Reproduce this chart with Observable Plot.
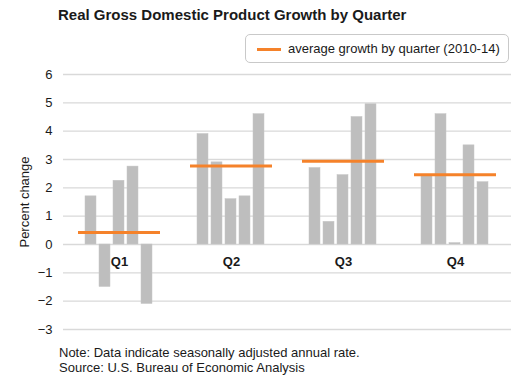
<!DOCTYPE html>
<html>
<head>
<meta charset="utf-8">
<script src="https://cdn.jsdelivr.net/npm/d3@7"></script>
<script src="https://cdn.jsdelivr.net/npm/@observablehq/plot@0.6"></script>
<style>
  html, body { margin: 0; padding: 0; background: #fff; }
  #wrap { position: relative; width: 529px; height: 390px; font-family: "Liberation Sans", Arial, sans-serif; color: #1a1a1a; overflow: hidden; }
  #title { position: absolute; left: 58px; top: 6px; font-size: 15px; font-weight: bold; white-space: nowrap; }
  #legend { position: absolute; left: 245px; top: 34px; width: 264px; height: 29px; border: 1px solid #c9c9c9; border-radius: 5px; box-sizing: border-box; font-size: 13px; white-space: nowrap; }
  #legend .sw { position: absolute; left: 11px; top: 13px; width: 24px; height: 3px; background: #f5822a; }
  #legend .lb { position: absolute; left: 42px; top: 6px; }
  .layer { position: absolute; left: 0; top: 64px; }
  #note { position: absolute; left: 59px; top: 345px; font-size: 13px; line-height: 15px; white-space: nowrap; }
</style>
</head>
<body>
<div id="wrap">
  <div id="title">Real Gross Domestic Product Growth by Quarter</div>
  <div id="legend"><div class="sw"></div><div class="lb">average growth by quarter (2010-14)</div></div>
  <div id="grid" class="layer"></div>
  <div id="chart" class="layer"></div>
  <div id="note">Note: Data indicate seasonally adjusted annual rate.<br>Source: U.S. Bureau of Economic Analysis</div>
</div>
<script>
const quarters = ["Q1", "Q2", "Q3", "Q4"];
const years = ["2010", "2011", "2012", "2013", "2014"];
const q1Values = [1.7, -1.5, 2.25, 2.75, -2.1];
const q2Values = [3.9, 2.9, 1.6, 1.7, 4.6];
const q3Values = [2.7, 0.8, 2.45, 4.5, 4.95];
const q4Values = [2.45, 4.6, 0.05, 3.5, 2.2];
const averages = [0.42, 2.77, 2.94, 2.46];
const yTicks = [-3, -2, -1, 0, 1, 2, 3, 4, 5, 6];

const seriesByQuarter = [q1Values, q2Values, q3Values, q4Values];
const bars = [];
quarters.forEach((q, i) => years.forEach((y, j) => bars.push({quarter: q, year: y, value: seriesByQuarter[i][j]})));
const avgRows = quarters.map((q, i) => ({quarter: q, value: averages[i]}));

const common = {
  width: 529,
  height: 276,
  marginTop: 10,
  marginBottom: 11,
  marginLeft: 63,
  marginRight: 18,
  style: {fontFamily: "'Liberation Sans', Arial, sans-serif", fontSize: "12px", color: "#1a1a1a", background: "transparent"},
  y: {domain: [-3, 6], ticks: yTicks}
};

// Background layer: gridlines and y axis spanning the whole frame
const gridPlot = Plot.plot({
  ...common,
  x: {domain: [0, 1], axis: null},
  marks: [
    Plot.ruleY(yTicks, {y: d => d, stroke: "#d9d9d9", strokeWidth: 1.3}),
    Plot.axisY(yTicks, {tickSize: 0, tickPadding: 11, fontSize: 13, label: "Percent change", labelAnchor: "center", labelOffset: 44, labelArrow: "none"})
  ]
});
document.getElementById("grid").appendChild(gridPlot);

// Foreground layer: faceted bars, average rules and quarter labels
const plot = Plot.plot({
  ...common,
  y: {domain: [-3, 6], axis: null},
  fx: {domain: quarters, paddingInner: 0.27, paddingOuter: 0.135, axis: null},
  x: {domain: years, paddingInner: 0.18, paddingOuter: 0.38, axis: null},
  marks: [
    Plot.barY(bars, {fx: "quarter", x: "year", y: "value", fill: "#bebebe", stroke: "#c6c6c6", strokeWidth: 0.5}),
    Plot.ruleY(avgRows, {fx: "quarter", y: "value", stroke: "#f5822a", strokeWidth: 3}),
    Plot.text(quarters, {fx: d => d, y: () => 0, text: d => d, dy: 17, fontWeight: "bold", fontSize: 13, fill: "#1a1a1a"})
  ]
});
document.getElementById("chart").appendChild(plot);
</script>
</body>
</html>
